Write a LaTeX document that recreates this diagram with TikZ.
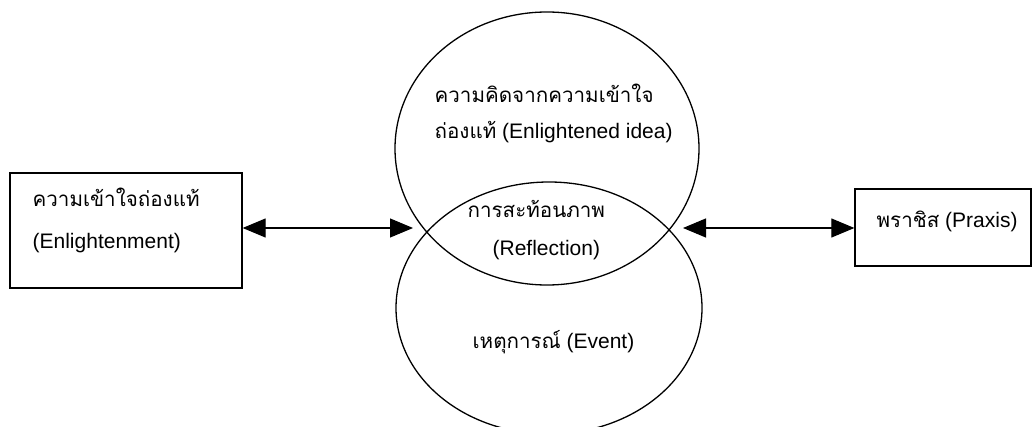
\documentclass[tikz,border=0pt]{standalone}
\usepackage{fontspec}
\setmainfont{Liberation Sans}
\newfontfamily\thaifont[Script=Thai,Scale=0.98]{Loma}
\usetikzlibrary{shapes.geometric,arrows.meta}
\newcommand{\thaitxt}[1]{{\thaifont #1}}
\begin{document}
\begin{tikzpicture}[x=1pt,y=-1pt,
  line width=1.3pt,
  every node/.style={font=\fontsize{21}{25}\selectfont},
  boxnode/.style={draw,rectangle,inner sep=0pt},
  ring/.style={draw,ellipse,inner sep=0pt},
  label text/.style={anchor=base west,inner sep=0pt},
  link/.style={{Triangle[length=23pt,width=19pt]}-{Triangle[length=23pt,width=19pt]},line width=1.1pt}]
  \useasboundingbox (0,0) rectangle (1035,427);

  % two overlapping circles
  \node[ring,minimum width=304pt,minimum height=273pt] (idea) at (547,148.5) {};
  \node[ring,minimum width=306pt,minimum height=252pt] (event) at (549,308) {};

  % side boxes
  \node[boxnode,minimum width=232pt,minimum height=115pt] (enl) at (126,230.5) {};
  \node[boxnode,minimum width=176pt,minimum height=77pt] (praxis) at (943,227.5) {};

  % texts
  \node[label text] (t1) at (32,207) {\thaitxt{ความเข้าใจถ่องแท้}};
  \node[label text] (t2) at (32,249) {(Enlightenment)};
  \node[label text] (t3) at (876,228) {\thaitxt{พราชิส} (Praxis)};
  \node[label text] (t4) at (434,103) {\thaitxt{ความคิดจากความเข้าใจ}};
  \node[label text] (t5) at (434,139) {\thaitxt{ถ่องแท้} (Enlightened idea)};
  \node[label text] (t6) at (467,218) {\thaitxt{การสะท้อนภาพ}};
  \node[label text] (t7) at (492,256) {(Reflection)};
  \node[label text] (t8) at (472,348) {\thaitxt{เหตุการณ์} (Event)};

  % arrow ends near the circle crossings
  \coordinate (lend) at (413,228);
  \coordinate (rend) at (683,228);
  \draw[link] (enl.east |- lend) -- (lend);
  \draw[link] (rend) -- (praxis.west |- rend);
\end{tikzpicture}
\end{document}
